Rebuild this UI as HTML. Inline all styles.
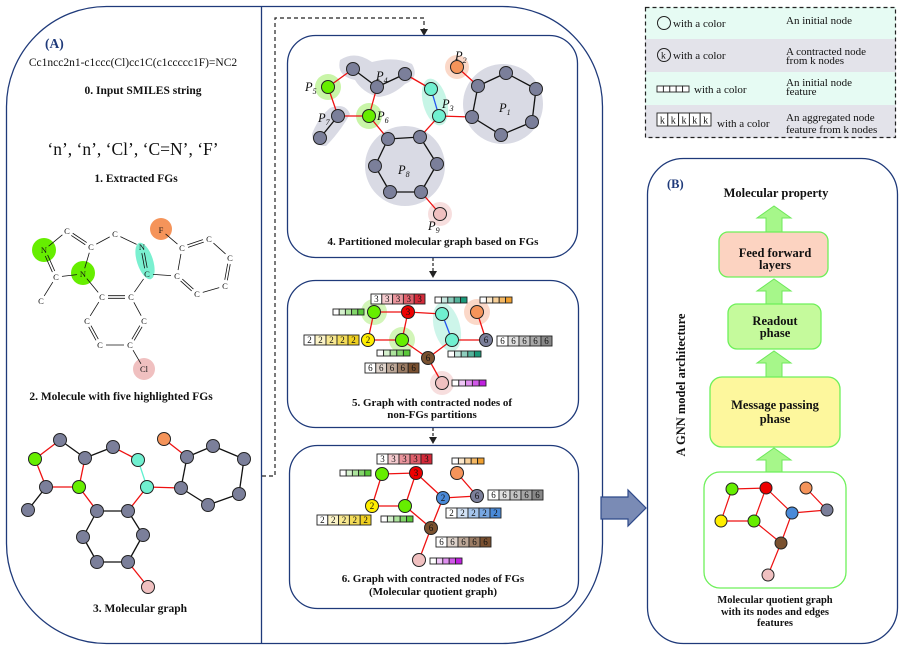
<!DOCTYPE html>
<html><head><meta charset="utf-8"><style>
html,body{margin:0;padding:0;background:#fff}
svg{display:block}
text{font-family:"Liberation Serif",serif;fill:#111}
.b{font-weight:bold}
.it{font-style:italic}
</style></head><body>
<svg id="s" width="906" height="651" viewBox="0 0 906 651" xmlns="http://www.w3.org/2000/svg">
<rect x="6.5" y="6.5" width="596" height="637" rx="100" fill="#fff" stroke="#1f3a7a" stroke-width="1.3"/>
<line x1="261.5" y1="6" x2="261.5" y2="643" stroke="#1f3a7a" stroke-width="1.3"/>
<path d="M262 476 H275 V18 H424 V32" fill="none" stroke="#222" stroke-width="1.2" stroke-dasharray="4,3"/>
<path d="M420 29 L424 36 L428 29 Z" fill="#222"/>
<rect x="287.5" y="35.5" width="290" height="222" rx="28" fill="#fff" stroke="#1f3a7a" stroke-width="1.3"/>
<rect x="287.5" y="280.5" width="291" height="147" rx="28" fill="#fff" stroke="#1f3a7a" stroke-width="1.3"/>
<rect x="289.5" y="445.5" width="289" height="163" rx="28" fill="#fff" stroke="#1f3a7a" stroke-width="1.3"/>
<line x1="433" y1="258" x2="433" y2="275" stroke="#222" stroke-width="1.2" stroke-dasharray="3,2"/>
<path d="M429 271 L433 278 L437 271 Z" fill="#222"/>
<line x1="433" y1="428" x2="433" y2="440" stroke="#222" stroke-width="1.2" stroke-dasharray="3,2"/>
<path d="M429 437 L433 444 L437 437 Z" fill="#222"/>
<rect x="645" y="7" width="251" height="32" fill="#e6fbf3"/>
<rect x="645" y="39" width="251" height="33" fill="#e3e3ea"/>
<rect x="645" y="72" width="251" height="33" fill="#e6fbf3"/>
<rect x="645" y="105" width="251" height="33" fill="#e3e3ea"/>
<rect x="645.5" y="7.5" width="250" height="130" fill="none" stroke="#222" stroke-width="1.2" stroke-dasharray="4,3"/>
<circle cx="664" cy="23" r="6.5" fill="none" stroke="#222"/>
<circle cx="664" cy="55" r="6.5" fill="none" stroke="#222"/>
<rect x="647.5" y="158.5" width="250" height="485" rx="36" fill="#fff" stroke="#1f3a7a" stroke-width="1.3"/>
<path d="M601 497 H628 V490 L646 508 L628 526 V519 H601 Z" fill="#7a8bb5" stroke="#2f4a8a" stroke-width="1.2"/>
<g fill="#a6f78a" stroke="#6ee85a" stroke-width="1">
<path d="M766 232 V218 H757 L774 206 L791 218 H782 V232 Z"/>
<path d="M766 304 V291 H757 L774 279 L791 291 H782 V304 Z"/>
<path d="M766 377 V363 H757 L774 351 L791 363 H782 V377 Z"/>
<path d="M766 473 V460 H757 L774 448 L791 460 H782 V473 Z"/>
</g>
<rect x="719" y="232" width="109" height="45" rx="9" fill="#fcd3c1" stroke="#6ef05a" stroke-width="1.3"/>
<rect x="728" y="304" width="93" height="45" rx="9" fill="#c5fa9c" stroke="#6ef05a" stroke-width="1.3"/>
<rect x="710" y="377" width="130" height="70" rx="12" fill="#fdf79d" stroke="#6ef05a" stroke-width="1.3"/>
<rect x="704" y="472" width="142" height="116" rx="16" fill="#fff" stroke="#6ef05a" stroke-width="1.3"/>
<g id="g"></g>
<g>
<text x="45" y="48" class="b" font-size="13.5" style="fill:#1f3a7a">(A)</text>
<text x="133" y="66" font-size="11.5" text-anchor="middle">Cc1ncc2n1-c1ccc(Cl)cc1C(c1ccccc1F)=NC2</text>
<text x="143" y="94" class="b" font-size="11.5" text-anchor="middle">0. Input SMILES string</text>
<text x="133" y="155" font-size="17.5" text-anchor="middle">‘n’, ‘n’, ‘Cl’, ‘C=N’, ‘F’</text>
<text x="136" y="182" class="b" font-size="11.5" text-anchor="middle">1. Extracted FGs</text>
<text x="121" y="400" class="b" font-size="11.5" text-anchor="middle">2. Molecule with five highlighted FGs</text>
<text x="140" y="612" class="b" font-size="11.5" text-anchor="middle">3. Molecular graph</text>
<g font-size="8.5" text-anchor="middle">
<text x="67" y="234">C</text><text x="44" y="253">N</text><text x="91" y="250">C</text><text x="115" y="237">C</text>
<text x="142" y="250">N</text><text x="161" y="233">F</text><text x="182" y="251">C</text><text x="209" y="242">C</text>
<text x="230" y="261">C</text><text x="225" y="289">C</text><text x="197" y="297">C</text><text x="177" y="279">C</text>
<text x="147" y="277">C</text><text x="56" y="280">C</text><text x="83" y="277">N</text><text x="41" y="304">C</text>
<text x="102" y="300">C</text><text x="131" y="300">C</text><text x="87" y="324">C</text><text x="144" y="324">C</text>
<text x="100" y="348">C</text><text x="130" y="348">C</text><text x="144" y="372">Cl</text>
</g>
<g class="it" font-size="12.5">
<text x="499" y="112">P<tspan font-size="8" dy="3">1</tspan></text>
<text x="455" y="60">P<tspan font-size="8" dy="3">2</tspan></text>
<text x="442" y="108">P<tspan font-size="8" dy="3">3</tspan></text>
<text x="376" y="80">P<tspan font-size="8" dy="3">4</tspan></text>
<text x="305" y="91">P<tspan font-size="8" dy="3">5</tspan></text>
<text x="377" y="120">P<tspan font-size="8" dy="3">6</tspan></text>
<text x="318" y="122">P<tspan font-size="8" dy="3">7</tspan></text>
<text x="398" y="174">P<tspan font-size="8" dy="3">8</tspan></text>
<text x="428" y="230">P<tspan font-size="8" dy="3">9</tspan></text>
</g>
<text x="433" y="245" class="b" font-size="11" text-anchor="middle">4. Partitioned molecular graph based on FGs</text>
<text x="432" y="406" class="b" font-size="11" text-anchor="middle">5. Graph with contracted nodes of</text>
<text x="432" y="418" class="b" font-size="11" text-anchor="middle">non-FGs partitions</text>
<text x="433" y="582" class="b" font-size="11" text-anchor="middle">6. Graph with contracted nodes of FGs</text>
<text x="433" y="595" class="b" font-size="11" text-anchor="middle">(Molecular quotient graph)</text>
<g font-size="11">
<text x="673" y="27">with a color</text><text x="786" y="24">An initial node</text>
<text x="661" y="58.5" font-size="9.5">k</text>
<text x="673" y="59">with a color</text><text x="786" y="55">A contracted node</text><text x="786" y="64">from k nodes</text>
<text x="694" y="93">with a color</text><text x="786" y="86">An initial node</text><text x="786" y="95">feature</text>
<text x="717" y="127">with a color</text><text x="786" y="121">An aggregated node</text><text x="786" y="133">feature from k nodes</text>
</g>
<g font-size="10" text-anchor="middle">
<text x="662.4" y="123.5">k</text><text x="673.2" y="123.5">k</text><text x="684" y="123.5">k</text><text x="694.8" y="123.5">k</text><text x="705.6" y="123.5">k</text>
</g>
<text x="667" y="188" class="b" font-size="12.5" style="fill:#1f3a7a">(B)</text>
<text x="776" y="197" class="b" font-size="12.5" text-anchor="middle">Molecular property</text>
<text x="775" y="257" class="b" font-size="12.5" text-anchor="middle">Feed forward</text>
<text x="775" y="269" class="b" font-size="12.5" text-anchor="middle">layers</text>
<text x="775" y="325" class="b" font-size="12.5" text-anchor="middle">Readout</text>
<text x="775" y="337" class="b" font-size="12.5" text-anchor="middle">phase</text>
<text x="775" y="409" class="b" font-size="12.5" text-anchor="middle">Message passing</text>
<text x="775" y="423" class="b" font-size="12.5" text-anchor="middle">phase</text>
<text x="685" y="385" class="b" font-size="12.5" text-anchor="middle" transform="rotate(-90 685 385)">A GNN model architecture</text>
<text x="775" y="603" class="b" font-size="10.5" text-anchor="middle">Molecular quotient graph</text>
<text x="775" y="615" class="b" font-size="10.5" text-anchor="middle">with its nodes and edges</text>
<text x="775" y="626" class="b" font-size="10.5" text-anchor="middle">features</text>
</g>
<g id="t" font-size="9" text-anchor="middle"></g>
</svg>
<script>
var NS="http://www.w3.org/2000/svg",G=document.getElementById("g"),T=document.getElementById("t");
function el(n,a,p){var e=document.createElementNS(NS,n);for(var k in a)e.setAttribute(k,a[k]);(p||G).appendChild(e);return e;}
function L(x1,y1,x2,y2,c,w){el("line",{x1:x1,y1:y1,x2:x2,y2:y2,stroke:c||"#111","stroke-width":w||1.3});}
function C(x,y,r,f,s){el("circle",{cx:x,cy:y,r:r,fill:f,stroke:s||"none","stroke-width":1});}
function N(x,y,f,r){C(x,y,r||6.5,f,"#222");}
function TX(x,y,s){var e=el("text",{x:x,y:y+3},T);e.textContent=s;}
function mix(c,t){var r=parseInt(c.substr(1,2),16),g=parseInt(c.substr(3,2),16),b=parseInt(c.substr(5,2),16);
 return "rgb("+Math.round(255+(r-255)*t)+","+Math.round(255+(g-255)*t)+","+Math.round(255+(b-255)*t)+")";}
function BAR(x,y,w,h,c,d){var cw=w/5;for(var i=0;i<5;i++){el("rect",{x:x+i*cw,y:y,width:cw,height:h,fill:mix(c,i/4),stroke:"#222","stroke-width":0.9});
 if(d){var e=el("text",{x:x+i*cw+cw/2,y:y+h-2},T);e.textContent=d;}}}
BAR(657,86,32,6,"#ffffff");BAR(657,113,54,13,"#ffffff");
C(44,250,12,"#66ee00");C(83,273,12,"#66ee00");C(161,229,11,"#f5945a");C(144,369,11,"#f0c0c0");
el("ellipse",{cx:145,cy:261,rx:8,ry:19,fill:"#7af0d0",transform:"rotate(-18 145 261)"});
var A={a:[67,231],b:[44,250],c:[91,247],d:[115,234],e:[142,247],F:[161,230],f:[182,248],g:[209,239],h:[230,258],i:[225,286],j:[197,294],k:[177,276],l:[147,274],m:[56,277],n:[83,274],o:[41,301],p:[102,297],q:[131,297],r:[87,321],s:[144,321],t:[100,345],u:[130,345],Cl:[144,369]};
function B(a,b,dbl){var p=A[a],q=A[b],dx=q[0]-p[0],dy=q[1]-p[1],l=Math.hypot(dx,dy),ux=dx/l,uy=dy/l,s=6;
 var x1=p[0]+ux*s,y1=p[1]+uy*s,x2=q[0]-ux*s,y2=q[1]-uy*s;
 if(dbl){var ox=-uy*1.3,oy=ux*1.3;L(x1+ox,y1+oy,x2+ox,y2+oy,"#111",0.8);L(x1-ox,y1-oy,x2-ox,y2-oy,"#111",0.8);}else L(x1,y1,x2,y2,"#111",0.8);}
[["a","b"],["a","c",1],["b","m",1],["m","n"],["n","c"],["m","o"],["c","d"],["d","e"],["e","l",1],["l","k"],["f","F"],["f","g",1],["g","h"],["h","i",1],["i","j"],["j","k",1],["k","f"],["n","p"],["p","q",1],["q","l"],["p","r"],["r","t",1],["t","u"],["u","s",1],["s","q"],["u","Cl"]].forEach(function(b){B(b[0],b[1],b[2]);});
var g3={a:[60,440,"#7b7f9a"],b:[35,459,"#66ee00"],c:[85,458,"#7b7f9a"],d:[113,447,"#7b7f9a"],e:[138,460,"#70f0d0"],f:[164,439,"#f5945a"],g:[187,457,"#7b7f9a"],h:[213,446,"#7b7f9a"],i:[244,459,"#7b7f9a"],j:[46,487,"#7b7f9a"],k:[79,487,"#66ee00"],l:[147,487,"#70f0d0"],m:[181,488,"#7b7f9a"],n:[239,494,"#7b7f9a"],o:[28,510,"#7b7f9a"],p:[97,511,"#7b7f9a"],q:[128,511,"#7b7f9a"],r:[208,505,"#7b7f9a"],s:[143,535,"#7b7f9a"],t:[83,537,"#7b7f9a"],u:[97,562,"#7b7f9a"],v:[128,562,"#7b7f9a"],w:[148,587,"#f0c0c0"]};
var R="#ee1111",K="#111";
[["a","b",R],["a","c",K],["c","d",K],["d","e",R],["e","l","#60f0d0"],["l","m",R],["f","g",R],["g","h",K],["h","i",K],["i","n",K],["n","r",K],["r","m",K],["m","g",K],["b","j",R],["j","k",R],["c","k",R],["j","o",K],["k","p",R],["p","q",K],["q","l",R],["q","s",K],["s","v",K],["v","u",K],["u","t",K],["t","p",K],["v","w",R]].forEach(function(e){var p=g3[e[0]],q=g3[e[1]];L(p[0],p[1],q[0],q[1],e[2],1.3);});
for(var k in g3)N(g3[k][0],g3[k][1],g3[k][2],6.5);
var GR="#d9dae4";
el("path",{d:"M340 60 Q355 50 372 62 Q395 56 412 64 Q420 78 405 84 Q392 96 378 97 Q362 92 355 80 Q336 76 340 60 Z",fill:GR});
el("path",{d:"M330 108 Q345 102 350 114 Q340 132 326 146 Q312 146 312 134 Q318 118 330 108 Z",fill:GR});
C(503,104,40,GR);C(405,166,40,GR);
C(328,87,13,"#c9f5a8");C(369,116,13,"#c9f5a8");C(457,67,12,"#fbd8c8");C(440,214,12,"#f7dede");
el("ellipse",{cx:435,cy:102,rx:12,ry:24,fill:"#c6f5e6",transform:"rotate(-15 435 102)"});
var g4={n1:[353,69],n2:[377,87],n3:[405,74],p5:[328,87],p6:[369,116],p7:[338,116],t7:[320,138],c1:[431,89],p3:[439,116],p2:[457,67],
r1:[478,86],r2:[506,73],r3:[536,89],r4:[532,122],r5:[501,135],r6:[472,117],
s1:[388,139],s2:[420,137],s3:[437,164],s4:[421,192],s5:[390,192],s6:[375,166],p9:[440,214]};
[["p5","n1",R],["n1","n2",K],["n2","n3",K],["n3","c1",R],["c1","p3","#2255ee"],["p3","r6",R],["p2","r1",R],["p5","p7",R],["p7","p6",R],["n2","p6",R],["p7","t7",K],["p6","s1",R],["p3","s2",R],
["r1","r2",K],["r2","r3",K],["r3","r4",K],["r4","r5",K],["r5","r6",K],["r6","r1",K],["s1","s2",K],["s2","s3",K],["s3","s4",K],["s4","s5",K],["s5","s6",K],["s6","s1",K],["s4","p9",R]].forEach(function(e){var p=g4[e[0]],q=g4[e[1]];L(p[0],p[1],q[0],q[1],e[2],1.3);});
var col4={p5:"#66ee00",p6:"#66ee00",c1:"#70f0d0",p3:"#70f0d0",p2:"#f5945a",p9:"#f0c0c0"};
for(var k in g4)N(g4[k][0],g4[k][1],col4[k]||"#7b7f9a",6.5);
C(374,312,13,"#d2f5b8");C(402,340,13,"#d2f5b8");C(477,312,13,"#fbd8c8");C(442,383,12,"#f7dede");
el("ellipse",{cx:447,cy:327,rx:13,ry:25,fill:"#cdf5ea",transform:"rotate(-15 447 327)"});
var g5={g1:[374,312,"#66ee00"],r3:[408,312,"#ee0000"],c1:[442,314,"#70f0d0"],o:[477,312,"#f5945a"],y:[368,340,"#ffee00"],g2:[402,340,"#66ee00"],c2:[452,340,"#70f0d0"],gr:[486,340,"#7b7f9a"],br:[428,358,"#7a5230"],pk:[442,383,"#f0c0c0"]};
[["g1","r3",R],["r3","c1",R],["c1","c2","#2255ee"],["g1","y",R],["y","g2",R],["r3","g2",R],["g2","br",R],["br","c2",R],["c2","gr",R],["o","gr",R],["br","pk",R]].forEach(function(e){var p=g5[e[0]],q=g5[e[1]];L(p[0],p[1],q[0],q[1],e[2],1.3);});
for(var k in g5)N(g5[k][0],g5[k][1],g5[k][2],6.5);
TX(408,312,"3");TX(368,340,"2");TX(486,340,"6");TX(428,358,"6");
BAR(371,294,54,10,"#d42a3a","3");BAR(333,309,31,6,"#5ac83a");BAR(435,297,32,6,"#1a9a7a");BAR(480,297,32,6,"#f0a030");
BAR(304,335,55,10,"#f0d020","2");BAR(497,336,55,10,"#888888","6");BAR(377,350,33,6,"#5ac83a");BAR(448,351,33,6,"#1a9a7a");
BAR(365,363,54,10,"#7a5030","6");BAR(452,380,34,6,"#c020e0");
var g6={g1:[382,474,"#66ee00"],r3:[416,473,"#ee0000"],o:[457,473,"#f5945a"],y:[372,506,"#ffee00"],g2:[405,506,"#66ee00"],bl:[443,498,"#4a8ad8"],gr:[477,496,"#7b7f9a"],br:[431,528,"#7a5230"],pk:[419,560,"#f0c0c0"]};
[["g1","r3"],["r3","g2"],["r3","bl"],["g1","y"],["y","g2"],["g2","br"],["bl","br"],["bl","gr"],["o","gr"],["br","pk"]].forEach(function(e){var p=g6[e[0]],q=g6[e[1]];L(p[0],p[1],q[0],q[1],R,1.3);});
for(var k in g6)N(g6[k][0],g6[k][1],g6[k][2],6.5);
TX(416,473,"3");TX(372,506,"2");TX(443,498,"2");TX(477,496,"6");TX(431,528,"6");
BAR(377,454,55,10,"#d42a3a","3");BAR(340,470,31,6,"#5ac83a");BAR(452,458,32,6,"#f0a030");BAR(488,490,55,10,"#888888","6");
BAR(317,515,54,10,"#f0d020","2");BAR(381,516,32,6,"#5ac83a");BAR(446,508,55,10,"#4a8ad8","2");BAR(436,537,55,10,"#7a5030","6");BAR(430,558,32,6,"#c020e0");
var gb={g1:[732,489,"#66ee00"],r:[766,488,"#ee0000"],o:[806,488,"#f5945a"],y:[721,521,"#ffee00"],g2:[754,521,"#66ee00"],bl:[792,513,"#4a8ad8"],gr:[827,510,"#7b7f9a"],br:[781,543,"#7a5230"],pk:[768,575,"#f0c0c0"]};
[["g1","r"],["r","g2"],["r","bl"],["g1","y"],["y","g2"],["g2","br"],["bl","br"],["bl","gr"],["o","gr"],["br","pk"]].forEach(function(e){var p=gb[e[0]],q=gb[e[1]];L(p[0],p[1],q[0],q[1],R,1.2);});
for(var k in gb)N(gb[k][0],gb[k][1],gb[k][2],6);
</script>
</body></html>
